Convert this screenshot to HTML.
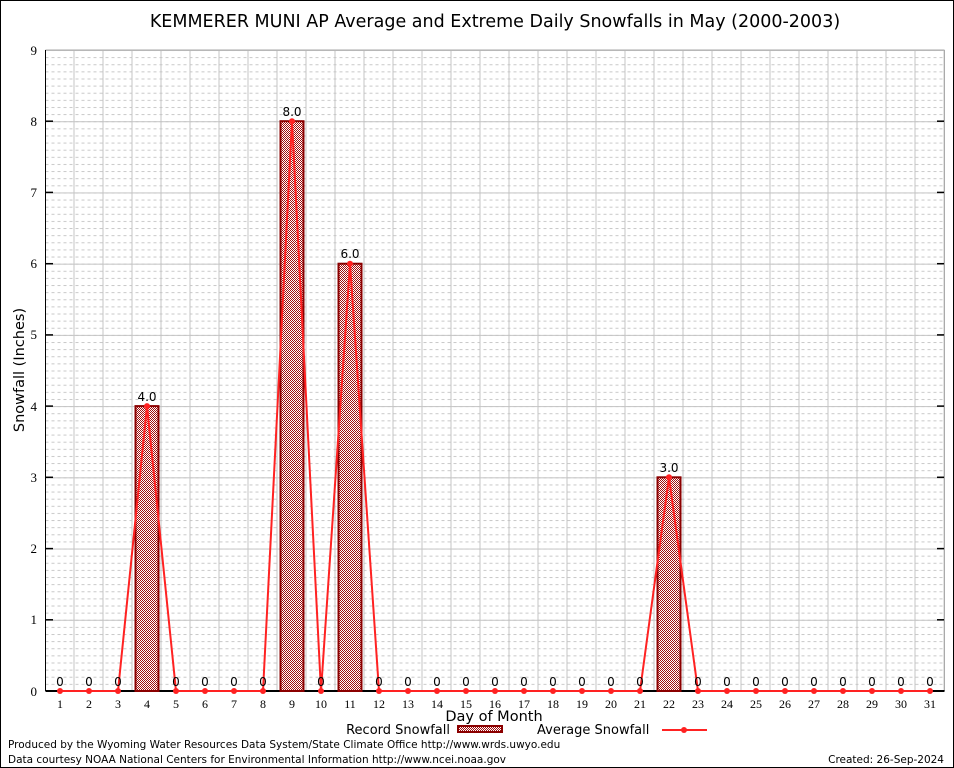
<!DOCTYPE html>
<html><head><meta charset="utf-8"><style>
body{margin:0;background:#fff}
svg{display:block}
</style></head><body>
<svg width="954" height="768" xmlns="http://www.w3.org/2000/svg" font-family="DejaVu Sans, Liberation Sans, sans-serif">
<defs>
<pattern id="chk" width="2" height="2" patternUnits="userSpaceOnUse">
<rect width="2" height="2" fill="#fff"/><rect width="1" height="1" fill="#a01010"/><rect x="1" y="1" width="1" height="1" fill="#a01010"/>
</pattern>
<pattern id="minor" x="45.5" y="50" width="6" height="7.122" patternUnits="userSpaceOnUse">
<line x1="0" y1="0.5" x2="3" y2="0.5" stroke="#c8c8c8" stroke-width="1"/>
</pattern>
<pattern id="major" x="45.5" y="50" width="900" height="71.22" patternUnits="userSpaceOnUse">
<line x1="0" y1="0" x2="900" y2="0" stroke="#c4c4c4" stroke-width="2"/>
</pattern>
<pattern id="vert" x="45.5" y="50" width="29" height="700" patternUnits="userSpaceOnUse">
<line x1="29" y1="0" x2="29" y2="700" stroke="#c4c4c4" stroke-width="2"/>
</pattern>
</defs>
<rect x="0.5" y="0.5" width="953" height="767" fill="#fff" stroke="#000"/>
<text x="495" y="27" font-size="17.5" text-anchor="middle">KEMMERER MUNI AP Average and Extreme Daily Snowfalls in May (2000-2003)</text>
<rect x="45.5" y="50" width="899" height="641" fill="url(#minor)"/>
<rect x="45.5" y="50" width="899" height="641" fill="url(#major)"/>
<rect x="45.5" y="50" width="899" height="641" fill="url(#vert)"/>
<line x1="45.5" y1="50" x2="944.5" y2="50" stroke="#aaa"/>
<line x1="944.5" y1="50" x2="944.5" y2="691" stroke="#aaa"/>
<line x1="45.5" y1="50" x2="45.5" y2="691" stroke="#000"/>
<line x1="45.5" y1="691" x2="944.5" y2="691" stroke="#000" stroke-width="2"/>
<g stroke="#000" stroke-width="1.5">
<line x1="45" y1="121.2" x2="53" y2="121.2"/><line x1="45" y1="192.4" x2="53" y2="192.4"/><line x1="45" y1="263.7" x2="53" y2="263.7"/><line x1="45" y1="334.9" x2="53" y2="334.9"/><line x1="45" y1="406.1" x2="53" y2="406.1"/><line x1="45" y1="477.3" x2="53" y2="477.3"/><line x1="45" y1="548.6" x2="53" y2="548.6"/><line x1="45" y1="619.8" x2="53" y2="619.8"/>
<line x1="937" y1="121.2" x2="944" y2="121.2"/><line x1="937" y1="192.4" x2="944" y2="192.4"/><line x1="937" y1="263.7" x2="944" y2="263.7"/><line x1="937" y1="334.9" x2="944" y2="334.9"/><line x1="937" y1="406.1" x2="944" y2="406.1"/><line x1="937" y1="477.3" x2="944" y2="477.3"/><line x1="937" y1="548.6" x2="944" y2="548.6"/><line x1="937" y1="619.8" x2="944" y2="619.8"/>
</g>
<g font-family="Liberation Serif, serif" font-size="13" text-anchor="end">
<text x="37" y="55">9</text><text x="37" y="126">8</text><text x="37" y="197">7</text><text x="37" y="268">6</text><text x="37" y="339">5</text><text x="37" y="411">4</text><text x="37" y="482">3</text><text x="37" y="553">2</text><text x="37" y="624">1</text><text x="37" y="696">0</text>
</g>
<g font-family="Liberation Serif, serif" font-size="12" text-anchor="middle">
<text x="60" y="708">1</text><text x="89" y="708">2</text><text x="118" y="708">3</text><text x="147" y="708">4</text><text x="176" y="708">5</text><text x="205" y="708">6</text><text x="234" y="708">7</text><text x="263" y="708">8</text><text x="292" y="708">9</text><text x="321" y="708">10</text><text x="350" y="708">11</text><text x="379" y="708">12</text><text x="408" y="708">13</text><text x="437" y="708">14</text><text x="466" y="708">15</text><text x="495" y="708">16</text><text x="524" y="708">17</text><text x="553" y="708">18</text><text x="582" y="708">19</text><text x="611" y="708">20</text><text x="640" y="708">21</text><text x="669" y="708">22</text><text x="698" y="708">23</text><text x="727" y="708">24</text><text x="756" y="708">25</text><text x="785" y="708">26</text><text x="814" y="708">27</text><text x="843" y="708">28</text><text x="872" y="708">29</text><text x="901" y="708">30</text><text x="930" y="708">31</text>
</g>
<g fill="url(#chk)" stroke="#8b0000" stroke-width="2">
<rect x="135.5" y="406.1" width="23" height="284.9"/>
<rect x="280.5" y="121.2" width="23" height="569.8"/>
<rect x="338.5" y="263.7" width="23" height="427.3"/>
<rect x="657.5" y="477.3" width="23" height="213.7"/>
</g>
<polyline fill="none" stroke="#f22" stroke-width="2" points="60,691 89,691 118,691 147,406.1 176,691 205,691 234,691 263,691 292,121.2 321,691 350,263.7 379,691 408,691 437,691 466,691 495,691 524,691 553,691 582,691 611,691 640,691 669,477.3 698,691 727,691 756,691 785,691 814,691 843,691 872,691 901,691 930,691"/>
<g fill="#f22">
<circle cx="60" cy="691" r="3"/><circle cx="89" cy="691" r="3"/><circle cx="118" cy="691" r="3"/><circle cx="147" cy="406.1" r="3"/><circle cx="176" cy="691" r="3"/><circle cx="205" cy="691" r="3"/><circle cx="234" cy="691" r="3"/><circle cx="263" cy="691" r="3"/><circle cx="292" cy="121.2" r="3"/><circle cx="321" cy="691" r="3"/><circle cx="350" cy="263.7" r="3"/><circle cx="379" cy="691" r="3"/><circle cx="408" cy="691" r="3"/><circle cx="437" cy="691" r="3"/><circle cx="466" cy="691" r="3"/><circle cx="495" cy="691" r="3"/><circle cx="524" cy="691" r="3"/><circle cx="553" cy="691" r="3"/><circle cx="582" cy="691" r="3"/><circle cx="611" cy="691" r="3"/><circle cx="640" cy="691" r="3"/><circle cx="669" cy="477.3" r="3"/><circle cx="698" cy="691" r="3"/><circle cx="727" cy="691" r="3"/><circle cx="756" cy="691" r="3"/><circle cx="785" cy="691" r="3"/><circle cx="814" cy="691" r="3"/><circle cx="843" cy="691" r="3"/><circle cx="872" cy="691" r="3"/><circle cx="901" cy="691" r="3"/><circle cx="930" cy="691" r="3"/>
</g>
<g font-size="12" text-anchor="middle">
<text x="60" y="686">0</text><text x="89" y="686">0</text><text x="118" y="686">0</text><text x="147" y="401">4.0</text><text x="176" y="686">0</text><text x="205" y="686">0</text><text x="234" y="686">0</text><text x="263" y="686">0</text><text x="292" y="116">8.0</text><text x="321" y="686">0</text><text x="350" y="258">6.0</text><text x="379" y="686">0</text><text x="408" y="686">0</text><text x="437" y="686">0</text><text x="466" y="686">0</text><text x="495" y="686">0</text><text x="524" y="686">0</text><text x="553" y="686">0</text><text x="582" y="686">0</text><text x="611" y="686">0</text><text x="640" y="686">0</text><text x="669" y="472">3.0</text><text x="698" y="686">0</text><text x="727" y="686">0</text><text x="756" y="686">0</text><text x="785" y="686">0</text><text x="814" y="686">0</text><text x="843" y="686">0</text><text x="872" y="686">0</text><text x="901" y="686">0</text><text x="930" y="686">0</text>
</g>
<text x="24" y="370" font-size="14.5" text-anchor="middle" transform="rotate(-90 24 370)">Snowfall (Inches)</text>
<text x="494" y="721" font-size="14.5" text-anchor="middle">Day of Month</text>
<text x="450" y="734" font-size="13" text-anchor="end">Record Snowfall</text>
<rect x="458" y="726" width="44" height="6" fill="url(#chk)" stroke="#8b0000" stroke-width="2"/>
<text x="537" y="734" font-size="13">Average Snowfall</text>
<line x1="662" y1="730" x2="707" y2="730" stroke="#f22" stroke-width="2"/>
<circle cx="684" cy="730" r="3" fill="#f22"/>
<text x="8" y="748" font-size="10.5">Produced by the Wyoming Water Resources Data System/State Climate Office http://www.wrds.uwyo.edu</text>
<text x="8" y="763" font-size="10.5">Data courtesy NOAA National Centers for Environmental Information http://www.ncei.noaa.gov</text>
<text x="944" y="763" font-size="10.5" text-anchor="end">Created:  26-Sep-2024</text>
</svg>
</body></html>
